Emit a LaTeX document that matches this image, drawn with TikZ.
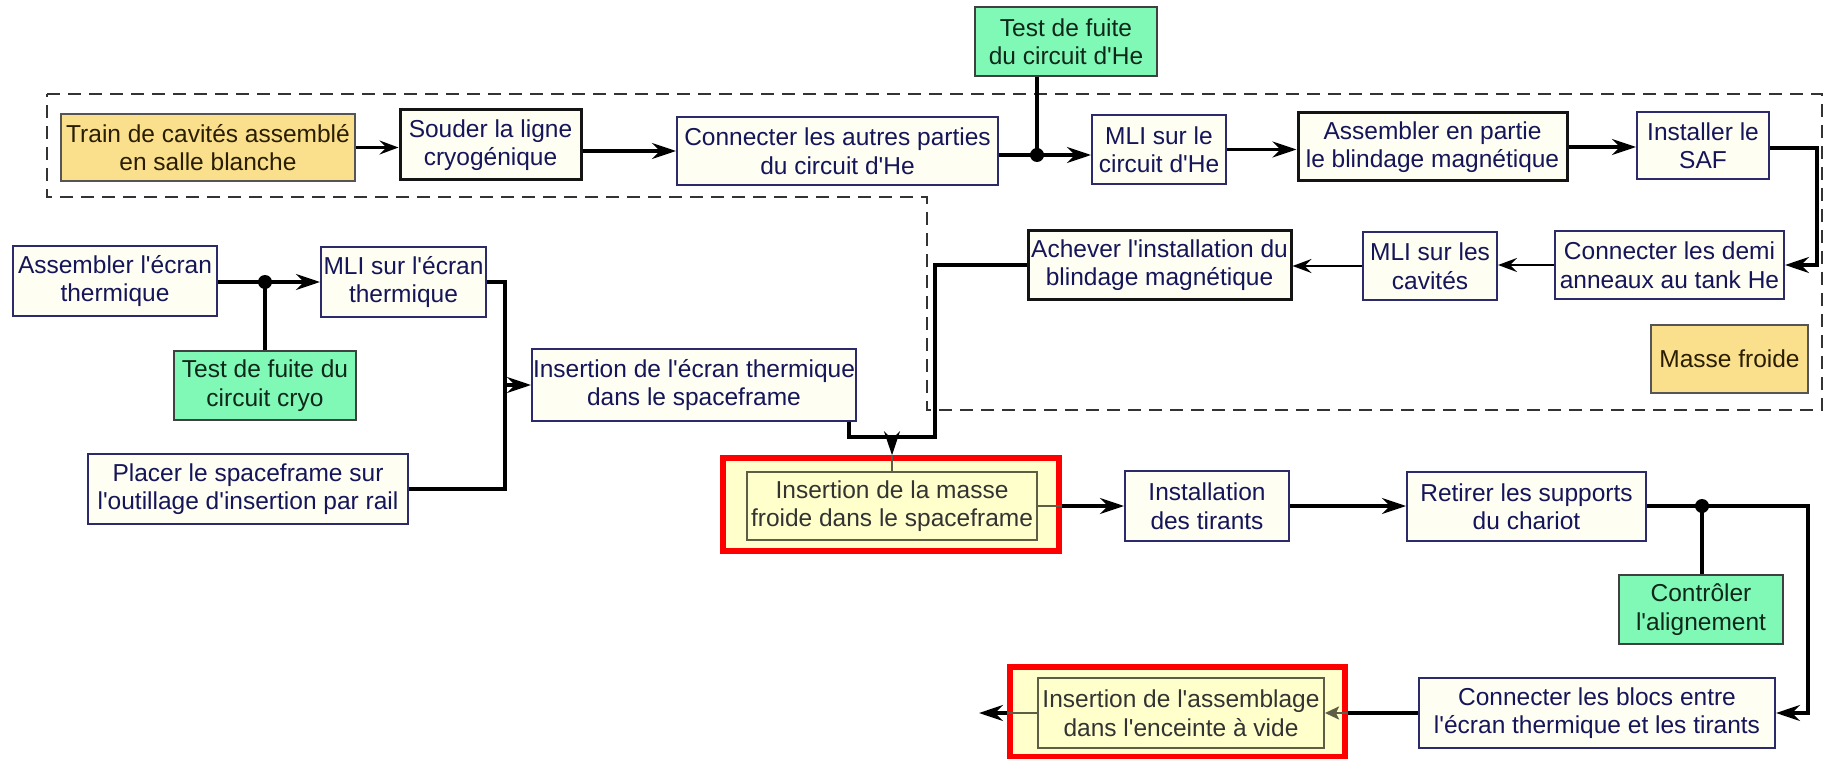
\documentclass[tikz,border=0pt]{standalone}
\usepackage{fontspec}
\setmainfont{Liberation Sans}[Ligatures=TeXOff]
\usetikzlibrary{arrows.meta,calc}
\definecolor{cream}{HTML}{FEFEF2}
\definecolor{navyb}{HTML}{2B2B6B}
\definecolor{navyt}{HTML}{15155A}
\definecolor{greenf}{HTML}{80F9B6}
\definecolor{greent}{HTML}{10281A}
\definecolor{yf}{HTML}{FADF8C}
\definecolor{yb}{HTML}{555555}
\definecolor{yt}{HTML}{2A1E00}
\definecolor{paley}{HTML}{FFFFCC}
\definecolor{olivb}{HTML}{5E5E46}
\definecolor{darkt}{HTML}{333333}
\definecolor{dgray}{HTML}{333333}
\begin{document}
\begin{tikzpicture}[x=1pt,y=-1pt,font=\fontsize{24.5}{28.5}\selectfont,
  box/.style={draw=navyb,line width=2pt,fill=cream,text=navyt,align=center,inner sep=0pt},
  bbox/.style={box,draw=black!92,line width=3pt},
  gbox/.style={box,draw=black!75,fill=greenf,text=greent},
  ybox/.style={box,draw=yb,fill=yf,text=yt},
  ibox/.style={box,draw=olivb,fill=paley,text=darkt},
  rbox/.style={draw=red,line width=5.5pt,fill=paley,inner sep=0pt},
  sz/.style 2 args={minimum width=#1pt,minimum height=#2pt},
  conn/.style={line width=3.1pt,black},
  thinconn/.style={line width=2.3pt,black},
  arr/.style={conn,-{Stealth[length=24pt,width=16pt,inset=8pt]}},
  arrthin/.style={thinconn,-{Stealth[length=19pt,width=14pt,inset=7pt]}},
  oline/.style={line width=2.4pt,olivb},
  oarr/.style={line width=2.4pt,olivb,-{Stealth[length=14pt,width=13pt,inset=3pt]}},
  dashbox/.style={draw=dgray,line width=2pt,dash pattern=on 13pt off 8pt}]
\useasboundingbox (0,0) rectangle (1825,759);

% dashed "masse froide" region
\draw[dashbox] (47,94) -- (1822,94) -- (1822,410) -- (927,410) -- (927,197) -- (47,197) -- cycle;

% nodes
\node[gbox,sz={182}{69}] (testHe) at (1066,41.5) {Test de fuite\\du circuit d'He};
\node[ybox,sz={294}{67}] (train) at (208,147.5) {Train de cavités assemblé\\en salle blanche};
\node[bbox,sz={181}{70}] (souder) at (490.5,145) {Souder la ligne\\cryogénique};
\node[box,sz={321}{68}] (connecter) at (837.5,151) {Connecter les autres parties\\du circuit d'He};
\node[box,sz={134}{69}] (mliHe) at (1159,149.5) {MLI sur le\\circuit d'He};
\node[bbox,sz={269}{68}] (assemb) at (1432.5,147) {Assembler en partie\\le blindage magnétique};
\node[box,sz={132}{67}] (saf) at (1703,145.5) {Installer le\\SAF};
\node[box,sz={229}{68}] (demi) at (1669.5,265) {Connecter les demi\\anneaux au tank He};
\node[box,sz={134}{68}] (mliCav) at (1430,266) {MLI sur les\\cavités};
\node[bbox,sz={263}{68}] (achever) at (1159.5,265) {Achever l'installation du\\blindage magnétique};
\node[ybox,sz={157}{68}] (masse) at (1729.5,359) {Masse froide};
\node[box,sz={204}{70}] (ecran) at (115,281) {Assembler l'écran\\thermique};
\node[box,sz={165}{70}] (mliEcran) at (403.5,282) {MLI sur l'écran\\thermique};
\node[gbox,sz={182}{69}] (cryo) at (265,385.5) {Test de fuite du\\circuit cryo};
\node[box,sz={320}{70}] (placer) at (248,489) {Placer le spaceframe sur\\l'outillage d'insertion par rail};
\node[box,sz={324}{72}] (insEcran) at (694,385) {Insertion de l'écran thermique\\dans le spaceframe};
\node[rbox,sz={336}{93}] (red1) at (891,504.5) {};
\node[ibox,sz={290}{68}] (inner1) at (892,506) {Insertion de la masse\\froide dans le spaceframe};
\node[box,sz={164}{70}] (tirants) at (1207,506) {Installation\\des tirants};
\node[box,sz={239}{69}] (retirer) at (1526.5,506.5) {Retirer les supports\\du chariot};
\node[gbox,sz={164}{69}] (controler) at (1701,609.5) {Contrôler\\l'alignement};
\node[box,sz={356}{70}] (blocs) at (1597,713) {Connecter les blocs entre\\l'écran thermique et les tirants};
\node[rbox,sz={335}{90}] (red2) at (1177.5,712) {};
\node[ibox,sz={286}{70}] (inner2) at (1181,713) {Insertion de l'assemblage\\dans l'enceinte à vide};

% helper coordinates
\coordinate (j1) at (1037,155);
\coordinate (sr) at (1817,148);
\coordinate (b1) at (935,437);
\coordinate (b2) at (892,437);
\coordinate (j2) at (265,282);
\coordinate (bus1) at (505,385);
\coordinate (j3) at (1702,506);
\coordinate (rr) at (1808,506);
\coordinate (fe) at (979,713);

% top chain
\draw[arrthin] (train.east) -- (souder.west |- train.east);
\draw[arr] (souder.east |- connecter.west) -- (connecter.west);
\draw[conn] (testHe.south -| j1) -- (j1);
\draw[conn] (connecter.east |- j1) -- (j1);
\draw[arr] (j1) -- (mliHe.west |- j1);
\fill (j1) circle (7pt);
\draw[arr] (mliHe.east) -- (assemb.west |- mliHe.east);
\draw[arr] (assemb.east) -- (saf.west |- assemb.east);
\draw[arr] (saf.east |- sr) -- (sr) |- (demi.east);
\draw[arrthin] (demi.west) -- (mliCav.east |- demi.west);
\draw[arrthin] (mliCav.west) -- (achever.east |- mliCav.west);

% down to insertion of the cold mass
\draw[conn] (achever.west) -| (b1) -- ([xshift=-8pt]insEcran.south east |- b1) -- ([xshift=-8pt]insEcran.south east);
\draw[arr] (b2) -- (b2 |- red1.north);
\draw[oline] (b2 |- red1.north) -- (b2 |- inner1.north);

% thermal shield branch
\draw[conn] (ecran.east |- j2) -- (j2);
\draw[arr] (j2) -- (mliEcran.west |- j2);
\draw[conn] (cryo.north -| j2) -- (j2);
\fill (j2) circle (7pt);
\draw[conn] (mliEcran.east) -| (bus1) |- (placer.east);
\draw[arr] (bus1) -- (insEcran.west |- bus1);

% bottom chain
\draw[oline] (inner1.east) -- (red1.east |- inner1.east);
\draw[arr] (red1.east |- inner1.east) -- (tirants.west |- inner1.east);
\draw[arr] (tirants.east) -- (retirer.west |- tirants.east);
\draw[arr] (retirer.east |- j3) -- (rr) |- (blocs.east);
\draw[conn] (controler.north -| j3) -- (j3);
\fill (j3) circle (7pt);
\draw[conn] (blocs.west) -- (red2.east |- blocs.west);
\draw[oarr] (red2.east |- blocs.west) -- (inner2.east |- blocs.west);
\draw[oline] (inner2.west) -- (red2.west |- inner2.west);
\draw[arr] (red2.west |- inner2.west) -- (fe);
\end{tikzpicture}
\end{document}
